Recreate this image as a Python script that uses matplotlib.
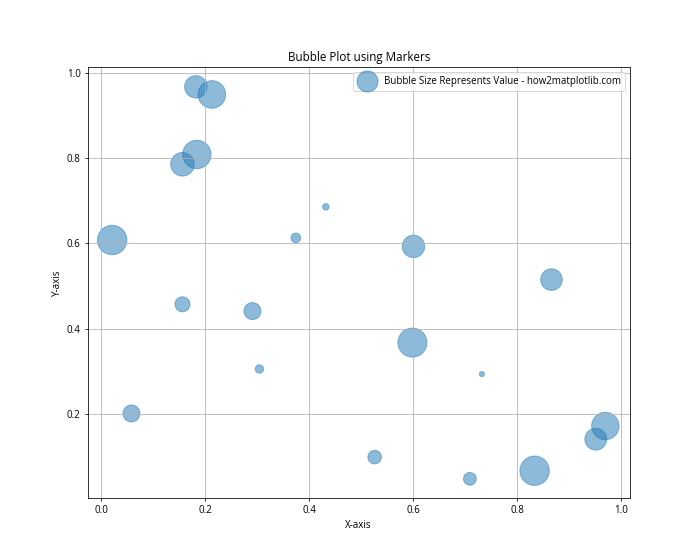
import matplotlib
matplotlib.use("Agg")
import matplotlib.pyplot as plt

plt.rcParams['font.family'] = ['Open Sans', 'DejaVu Sans']

x = [0.1815, 0.2123, 0.1835, 0.1558, 0.0206, 0.4315, 0.3738, 0.600, 0.8654, 0.1558,
     0.2904, 0.3038, 0.598, 0.7315, 0.0577, 0.5254, 0.7085, 0.833, 0.9506, 0.969]
y = [0.968, 0.950, 0.809, 0.786, 0.608, 0.686, 0.613, 0.593, 0.515, 0.457,
     0.441, 0.305, 0.367, 0.293, 0.2005, 0.098, 0.047, 0.066, 0.140, 0.171]
sizes = [532, 807, 855, 590, 916, 44, 98, 532, 495, 239,
         306, 75, 892, 27, 306, 196, 174, 916, 504, 795]

fig, ax = plt.subplots(figsize=(10, 8), dpi=70)

ax.scatter(x, y, s=sizes, alpha=0.5, label="Bubble Size Represents Value - how2matplotlib.com")

plt.title("Bubble Plot using Markers")
plt.xlabel("X-axis")
plt.ylabel("Y-axis")
plt.legend(loc="upper right")
plt.grid(True)

plt.savefig("out.png", dpi=70)
